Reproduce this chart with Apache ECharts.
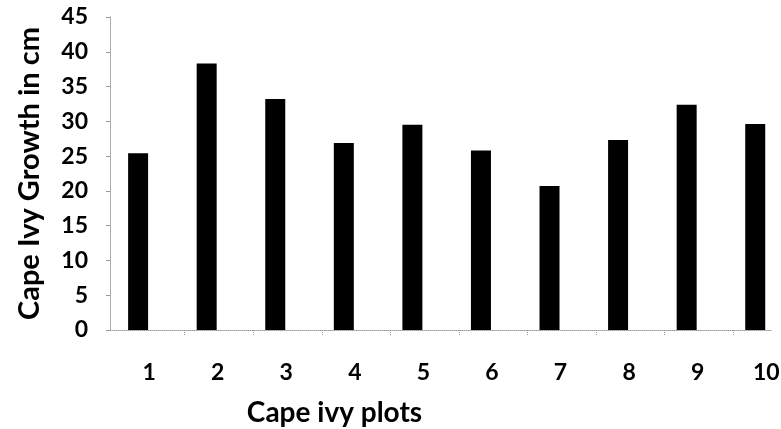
<!DOCTYPE html>
<html>
<head>
<meta charset="utf-8">
<script src="https://cdn.jsdelivr.net/npm/echarts@6/dist/echarts.min.js"></script>
<style>
  html, body { margin: 0; padding: 0; background: #fff; }
  #chart { width: 781px; height: 429px; }
</style>
</head>
<body>
<div id="chart"></div>
<script>
// Cape ivy growth per plot
const plots = [1, 2, 3, 4, 5, 6, 7, 8, 9, 10];
const growth = [25.4, 38.3, 33.2, 26.9, 29.5, 25.8, 20.7, 27.3, 32.4, 29.6];
const yTicks = [0, 5, 10, 15, 20, 25, 30, 35, 40, 45];

const FONT = 'Lato';
const axisGray = '#9a9a9a';

const chart = echarts.init(document.getElementById('chart'));
chart.setOption({
  backgroundColor: '#ffffff',
  animation: false,
  grid: { left: 110, right: 10, top: 17, bottom: 99, outerBoundsMode: 'none' },
  xAxis: {
    type: 'value',
    min: 0.59,
    max: 10.23,
    splitLine: { show: false },
    axisLine: { show: true, lineStyle: { color: axisGray, type: 'dotted', width: 1 } },
    axisTick: {
      show: true,
      length: 5,
      customValues: plots.slice(0, -1).map(p => p + 0.68),
      lineStyle: { color: axisGray, type: 'dotted' }
    },
    axisLabel: {
      customValues: plots,
      formatter: v => String(Math.round(v)),
      margin: 31,
      padding: [0, 0, 0, 22],
      color: '#000',
      fontFamily: FONT,
      fontWeight: 'bold',
      fontSize: 23
    },
    name: 'Cape ivy plots',
    nameLocation: 'middle',
    nameGap: 69,
    nameTextStyle: {
      color: '#000',
      fontFamily: FONT,
      fontWeight: 'bold',
      fontSize: 28,
      padding: [0, 212, 0, 0]
    }
  },
  yAxis: {
    type: 'value',
    min: 0,
    max: 45,
    interval: 5,
    splitLine: { show: false },
    axisLine: { show: true, lineStyle: { color: axisGray, type: 'dotted', width: 1 } },
    axisTick: { show: true, length: 4, lineStyle: { color: axisGray } },
    axisLabel: {
      customValues: yTicks,
      margin: 22,
      color: '#000',
      fontFamily: FONT,
      fontWeight: 'bold',
      fontSize: 23
    },
    name: 'Cape Ivy Growth in cm',
    nameLocation: 'middle',
    nameGap: 66,
    nameTextStyle: {
      color: '#000',
      fontFamily: FONT,
      fontWeight: 'bold',
      fontSize: 29
    }
  },
  series: [{
    type: 'bar',
    data: plots.map((p, i) => [p, growth[i]]),
    barWidth: 20,
    itemStyle: { color: '#000' }
  }]
});
</script>
</body>
</html>
